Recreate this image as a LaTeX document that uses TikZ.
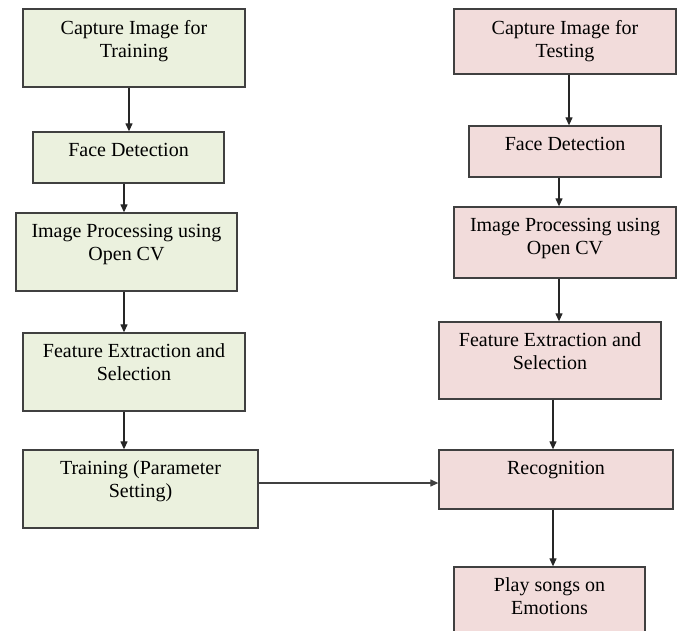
\documentclass[tikz,border=0pt]{standalone}
\usepackage{fontspec}
\setmainfont{Liberation Serif}
\usetikzlibrary{arrows.meta}
\definecolor{cGrn}{RGB}{235,241,222}
\definecolor{cPnk}{RGB}{242,220,219}
\definecolor{cLin}{RGB}{64,64,64}
\begin{document}
\begin{tikzpicture}[x=1pt,y=-1pt,
  box/.style={draw=cLin,line width=1.3pt,inner sep=0pt},
  boxtxt/.style={anchor=north,inner sep=0pt,yshift=-11.5pt,align=center,
    font=\fontsize{20}{23}\selectfont},
  arr/.style={draw=black!85,line width=1.2pt,-{Triangle[length=8pt,width=7pt]}}]
\useasboundingbox (0,0) rectangle (680,631);
\clip (0,0) rectangle (680,631);

%兩欄箭頭的位置
\coordinate (cLAPt) at (129,0);
\coordinate (cLBPt) at (124,0);
\coordinate (cRAPt) at (569,0);
\coordinate (cRBPt) at (559,0);
\coordinate (cRCPt) at (553,0);
\coordinate (cHPt) at (0,483);

%%左欄: 訓練  右欄: 測試
\foreach \v/\x/\y/\w/\h/\f/\t in
{bTrA/134/48/222/78/cGrn/{Capture Image for\\Training},
    bTrB/128.5/157.5/191/51/cGrn/{Face Detection},
    bTrC/126.5/252/221/78/cGrn/{Image Processing using\\Open CV},
    bTrD/134/372/222/78/cGrn/{Feature Extraction and\\Selection},
    bTrE/140.5/489/235/78/cGrn/{Training (Parameter\\Setting)},
    bTeA/565/41.5/222/65/cPnk/{Capture Image for\\Testing},
    bTeB/565/151.5/192/51/cPnk/{Face Detection},
    bTeC/565/242.5/222/71/cPnk/{Image Processing using\\Open CV},
    bTeD/550/360.5/222/77/cPnk/{Feature Extraction and\\Selection},
    bTeE/556/479.5/234/59/cPnk/{Recognition},
    bTeF/549.5/612/191/90/cPnk/{Play songs on\\Emotions}}
{
    \node[box,fill=\f,minimum width=\w pt,minimum height=\h pt,
      label={[boxtxt]north:\t}] (\v) at (\x,\y) {};
};

\foreach \a/\b/\c in
{bTrA/bTrB/cLAPt,
    bTrB/bTrC/cLBPt,
    bTrC/bTrD/cLBPt,
    bTrD/bTrE/cLBPt,
    bTeA/bTeB/cRAPt,
    bTeB/bTeC/cRBPt,
    bTeC/bTeD/cRBPt,
    bTeD/bTeE/cRCPt,
    bTeE/bTeF/cRCPt}
{
    \draw[arr] (\a.south -| \c) -- (\b.north -| \c);
};

\draw[arr,draw=cLin,line width=1.2pt] (bTrE.east |- cHPt) -- (bTeE.west |- cHPt);

\end{tikzpicture}
\end{document}
